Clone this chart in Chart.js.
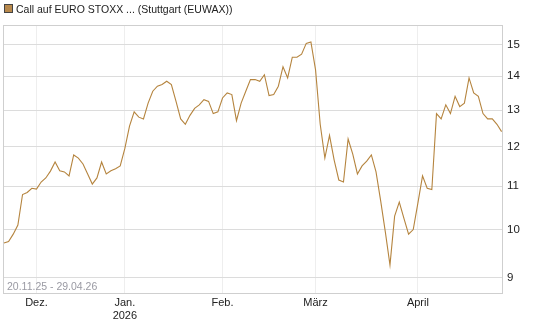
<!DOCTYPE html>
<html>
<head>
<meta charset="utf-8">
<script src="https://cdn.jsdelivr.net/npm/chart.js@4"></script>
<style>
  html, body { margin: 0; padding: 0; background: #fff; }
  canvas { display: block; }
</style>
</head>
<body>
<canvas id="c" width="545" height="327"></canvas>
<script>
const seriesName = 'Call auf EURO STOXX ... (Stuttgart (EUWAX))';
const rangeLabel = '20.11.25 - 29.04.26';

// one value per trading day, 20.11.25 .. 29.04.26
const prices = [
  9.71, 9.74, 9.90, 10.10, 10.80, 10.85, 10.95, 10.93, 11.10, 11.20,
  11.37, 11.60, 11.38, 11.35, 11.25, 11.78, 11.70, 11.55, 11.30, 11.05,
  11.20, 11.60, 11.30, 11.38, 11.43, 11.50, 11.95, 12.55, 12.95, 12.80,
  12.75, 13.20, 13.55, 13.70, 13.75, 13.85, 13.75, 13.25, 12.75, 12.60,
  12.85, 13.05, 13.15, 13.30, 13.25, 12.90, 12.95, 13.35, 13.50, 13.45,
  12.70, 13.20, 13.55, 13.90, 13.90, 13.85, 14.05, 13.42, 13.45, 13.70,
  14.30, 13.95, 14.60, 14.60, 14.70, 15.05, 15.10, 14.20, 12.60, 11.70,
  12.30, 11.65, 11.15, 11.10, 12.20, 11.80, 11.30, 11.50, 11.62, 11.78,
  11.35, 10.65, 9.95, 9.25, 10.30, 10.62, 10.25, 9.90, 10.00, 10.60,
  11.25, 10.95, 10.92, 12.90, 12.75, 13.15, 12.90, 13.40, 13.10, 13.20,
  13.95, 13.50, 13.40, 12.90, 12.75, 12.75, 12.60, 12.40
];

const monthIdx = [7, 26, 47, 67, 89];
const monthLabels = ['Dez.', ['Jan.', '2026'], 'Feb.', 'März', 'April'];
const yTicks = [9, 10, 11, 12, 13, 14, 15];

const lineColor = '#b5843e';
const FONT = '"Liberation Sans", Arial, sans-serif';

const decor = {
  id: 'decor',
  beforeDatasetsDraw(chart) {
    const { ctx, chartArea: a } = chart;
    ctx.save();
    ctx.strokeStyle = '#cfcfcf';
    ctx.lineWidth = 1;
    ctx.strokeRect(a.left + 0.5, a.top + 0.5, a.right - a.left - 1, a.bottom - a.top);
    ctx.fillStyle = '#9a9aa3';
    ctx.font = '10.5px ' + FONT;
    ctx.textBaseline = 'alphabetic';
    ctx.fillText(rangeLabel, 7, 290);
    ctx.restore();
  },
  afterDraw(chart) {
    const ctx = chart.ctx;
    ctx.save();
    ctx.fillStyle = '#b8894c';
    ctx.fillRect(4, 4, 8, 8);
    ctx.strokeStyle = '#444';
    ctx.lineWidth = 1;
    ctx.strokeRect(4.5, 4.5, 8, 8);
    ctx.fillStyle = '#222';
    ctx.font = '10.5px ' + FONT;
    ctx.textBaseline = 'alphabetic';
    ctx.fillText(seriesName, 16, 13);
    ctx.restore();
  }
};

new Chart(document.getElementById('c'), {
  type: 'line',
  data: {
    datasets: [{
      label: seriesName,
      data: prices.map((v, i) => ({ x: i, y: v })),
      borderColor: lineColor,
      borderWidth: 1.1,
      pointRadius: 0,
      tension: 0,
      fill: false,
    }],
  },
  options: {
    responsive: false,
    animation: false,
    devicePixelRatio: 1,
    layout: { padding: { top: 25, left: 3, right: 0, bottom: 0 } },
    plugins: {
      legend: { display: false },
      tooltip: { enabled: false },
    },
    scales: {
      x: {
        type: 'linear',
        min: -0.2,
        max: 107.3,
        afterBuildTicks: s => { s.ticks = monthIdx.map(v => ({ value: v })); },
        afterFit: s => { s.height = 34; },
        grid: { color: '#eeeeee', drawTicks: false },
        border: { display: false },
        ticks: {
          color: '#222',
          padding: 3,
          maxRotation: 0,
          autoSkip: false,
          font: { family: FONT, size: 11 },
          callback: (v, i) => monthLabels[i],
        },
      },
      y: {
        type: 'logarithmic',
        position: 'right',
        min: 8.70,
        max: 15.67,
        afterBuildTicks: s => { s.ticks = yTicks.map(v => ({ value: v })); },
        afterFit: s => { s.width = 42; },
        grid: { color: '#dcdcdc', drawTicks: false },
        border: { display: false },
        ticks: {
          color: '#222',
          padding: 4,
          font: { family: FONT, size: 11.5 },
          callback: v => String(v),
        },
      },
    },
  },
  plugins: [decor],
});
</script>
</body>
</html>
